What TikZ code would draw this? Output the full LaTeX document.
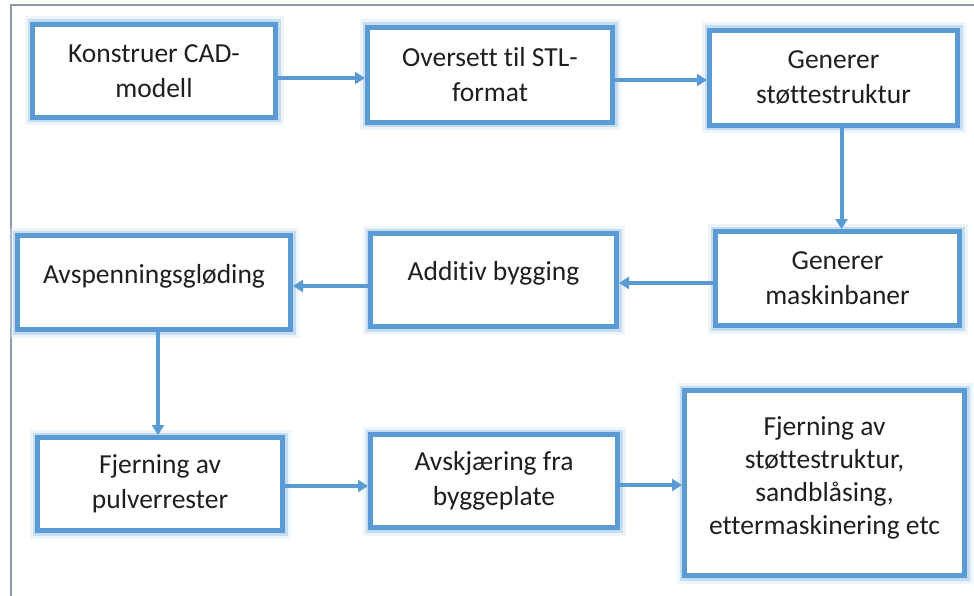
\documentclass[tikz,border=0pt]{standalone}
\usepackage{fontspec}
\setmainfont{Carlito}[Ligatures=NoCommon]
\usetikzlibrary{arrows.meta}
\definecolor{flowblue}{HTML}{5B9BD5}
\definecolor{glowblue}{HTML}{BDD7EE}
\definecolor{framegray}{HTML}{8A98A8}
\tikzset{
  stepbox/.style={draw=flowblue, line width=5pt, fill=white, rectangle,
    align=center, text=black!88, font=\fontsize{27.5}{35}\selectfont,
    preaction={draw=glowblue!60, line width=16pt, opacity=0.45},
    preaction={draw=glowblue, line width=10pt, opacity=0.8}},
  flow/.style={draw=flowblue, line width=4pt,
    -{Triangle[length=10pt,width=12pt]}},
  oneline/.style={text depth=18pt}
}
\begin{document}
\begin{tikzpicture}[x=1pt,y=-1pt]
\useasboundingbox (0,0) rectangle (974,596);
% open frame around the chart
\coordinate (fc) at (11,5);
\coordinate (ft) at (974,5);
\coordinate (fb) at (11,596);
\draw[framegray, line width=1.5pt] (fb) -- (fc) -- (ft);

% process steps
\node[stepbox, minimum width=243pt, minimum height=93pt] (b1) at (154,71) {Konstruer CAD-\\modell};
\node[stepbox, minimum width=245pt, minimum height=95pt] (b2) at (490,75) {Oversett til STL-\\format};
\node[stepbox, minimum width=248pt, minimum height=95pt] (b3) at (833.5,78) {Generer\\støttestruktur};
\node[stepbox, minimum width=244pt, minimum height=94pt] (b4) at (837.5,278.5) {Generer\\maskinbaner};
\node[stepbox, oneline, minimum width=246pt, minimum height=93pt] (b5) at (493.5,280) {Additiv bygging};
\node[stepbox, oneline, minimum width=273pt, minimum height=94pt] (b6) at (154,282.5) {Avspenningsgløding};
\node[stepbox, minimum width=245pt, minimum height=93pt] (b7) at (160,484) {Fjerning av\\pulverrester};
\node[stepbox, minimum width=247pt, minimum height=93pt] (b8) at (494,481) {Avskjæring fra\\byggeplate};
\node[stepbox, font=\fontsize{27.5}{33}\selectfont, text depth=14pt,
  minimum width=280pt, minimum height=185pt] (b9) at (824.5,483)
  {Fjerning av\\støttestruktur,\\sandblåsing,\\ettermaskinering etc};

% connectors
\draw[flow] ([yshift=-7pt]b1.east) -- ([yshift=-7pt]b1.east -| b2.west);
\draw[flow] ([yshift=-5pt]b2.east) -- ([yshift=-5pt]b2.east -| b3.west);
\draw[flow] ([xshift=8pt]b3.south) -- ([xshift=8pt]b3.south |- b4.north);
\draw[flow] ([yshift=-4.5pt]b4.west) -- ([yshift=-4.5pt]b4.west -| b5.east);
\draw[flow] ([yshift=-6pt]b5.west) -- ([yshift=-6pt]b5.west -| b6.east);
\draw[flow] ([xshift=4pt]b6.south) -- ([xshift=4pt]b6.south |- b7.north);
\draw[flow] ([yshift=-2pt]b7.east) -- ([yshift=-2pt]b7.east -| b8.west);
\draw[flow] ([yshift=-4pt]b8.east) -- ([yshift=-4pt]b8.east -| b9.west);
\end{tikzpicture}
\end{document}
